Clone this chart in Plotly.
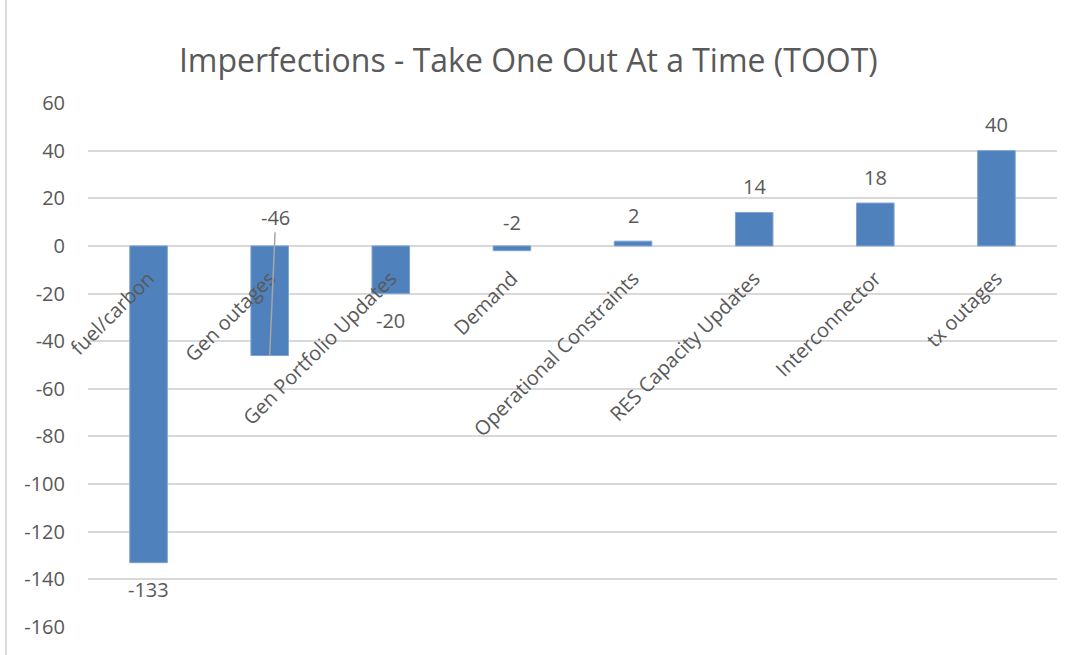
import plotly.graph_objects as go

categories = ["fuel/carbon", "Gen outages", "Gen Portfolio Updates", "Demand",
              "Operational Constraints", "RES Capacity Updates", "Interconnector", "tx outages"]
values = [-133, -46, -20, -2, 2, 14, 18, 40]
y_ticks = [60, 40, 20, 0, -20, -40, -60, -80, -100, -120, -140, -160]
y_tick_labels = ["60", "40", "20", "0", "-20", "-40", "-60", "-80", "-100", "-120", "-140", "-160"]
title_text = "Imperfections - Take One Out At a Time (TOOT)"

FONT = "Open Sans"
TEXT = "#595959"
GRID = "#d9d9d9"
BAR = "#4F81BD"

y_min, y_max = -160, 60

fig = go.Figure()
fig.add_trace(go.Bar(
    x=categories, y=values,
    marker=dict(color=BAR, line=dict(color="#7ea3d3", width=1)),
    hoverinfo="x+y",
))

# data labels
moved_to_axis = {"Demand"}          # label sits above the axis line
leader_label = {"Gen outages": 12}  # label moved, joined by a leader line
annotations = []
for c, v in zip(categories, values):
    txt = f"{v}"
    if c in leader_label:
        annotations.append(dict(x=c, y=v, text=txt, showarrow=True, arrowhead=0,
                                arrowwidth=1.5, arrowcolor="#a6a6a6", standoff=0,
                                ax=6, ay=leader_label[c], ayref="y",
                                font=dict(family=FONT, size=20, color=TEXT)))
    elif c in moved_to_axis:
        annotations.append(dict(x=c, y=0, text=txt, showarrow=False, yshift=23,
                                font=dict(family=FONT, size=20, color=TEXT)))
    else:
        annotations.append(dict(x=c, y=v, text=txt, showarrow=False,
                                yshift=26 if v >= 0 else -27,
                                font=dict(family=FONT, size=20, color=TEXT)))

fig.update_layout(
    width=1076, height=655,
    margin=dict(l=88, r=19, t=103, b=28),
    paper_bgcolor="white", plot_bgcolor="white",
    showlegend=False,
    bargap=0.69,
    title=dict(text=title_text, x=0.491, xref="container", xanchor="center",
               y=1 - 61 / 655, yref="container", yanchor="middle",
               font=dict(family=FONT, size=32, color=TEXT)),
    xaxis=dict(anchor="free", position=(0 - y_min) / (y_max - y_min),
               tickangle=-45, showgrid=False, showline=False, zeroline=False,
               ticks="", ticklabelstandoff=16,
               tickfont=dict(family=FONT, size=20, color=TEXT)),
    yaxis=dict(range=[y_min, y_max], tickvals=y_ticks, ticktext=y_tick_labels,
               showgrid=True, gridcolor=GRID,
               gridwidth=1.5, zeroline=True, zerolinecolor=GRID, zerolinewidth=1.5,
               showline=False, ticks="", ticklabelstandoff=22,
               tickfont=dict(family=FONT, size=20, color=TEXT)),
    annotations=annotations,
    shapes=[dict(type="line", xref="paper", yref="paper",
                 x0=(6 - 88) / 969, x1=(6 - 88) / 969, y0=-0.06, y1=1.2,
                 line=dict(color="#d0d0d0", width=1.5))],
)

fig.write_html("out.html")
